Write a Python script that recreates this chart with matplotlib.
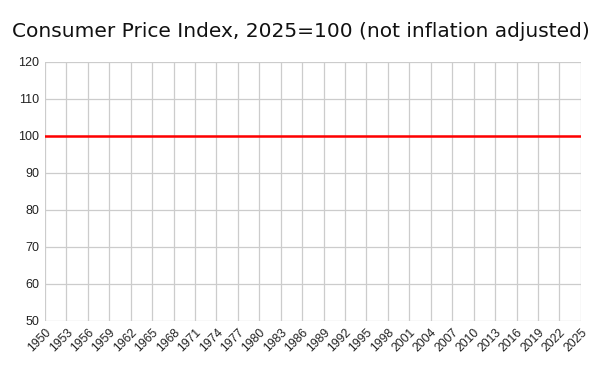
import matplotlib
matplotlib.use("Agg")
import matplotlib.pyplot as plt

years = list(range(1950, 2026))
cpi = [100, 100, 100, 100, 100, 100, 100, 100, 100, 100,
       100, 100, 100, 100, 100, 100, 100, 100, 100, 100,
       100, 100, 100, 100, 100, 100, 100, 100, 100, 100,
       100, 100, 100, 100, 100, 100, 100, 100, 100, 100,
       100, 100, 100, 100, 100, 100, 100, 100, 100, 100,
       100, 100, 100, 100, 100, 100, 100, 100, 100, 100,
       100, 100, 100, 100, 100, 100, 100, 100, 100, 100,
       100, 100, 100, 100, 100, 100]
x_ticks = list(range(1950, 2026, 3))
y_ticks = [50, 60, 70, 80, 90, 100, 110, 120]
title = "Consumer Price Index, 2025=100 (not inflation adjusted)"

plt.rcParams['font.family'] = ['Liberation Sans', 'DejaVu Sans']
fig = plt.figure(figsize=(6, 3.71), dpi=100)
ax = fig.add_axes([0.075, 0.135, 0.893, 0.698])
ax.plot(years, cpi, color='#ff0000', linewidth=1.8, zorder=3)
ax.set_xlim(1950, 2025)
ax.set_ylim(50, 120)
ax.set_xticks(x_ticks)
ax.set_xticklabels([str(t) for t in x_ticks], rotation=45, ha='right',
                   rotation_mode='anchor', fontsize=8.7)
ax.set_yticks(y_ticks)
ax.set_yticklabels([str(t) for t in y_ticks], fontsize=9)
ax.grid(True, color='#cccccc', linewidth=0.9)
ax.tick_params(length=0, pad=4, colors='#222222')
for s in ax.spines.values():
    s.set_visible(False)
fig.text(0.502, 0.914, title, ha='center', va='center', fontsize=14.5,
         color='#111111', family=['DejaVu Sans'])
fig.savefig('out.png', dpi=100)
